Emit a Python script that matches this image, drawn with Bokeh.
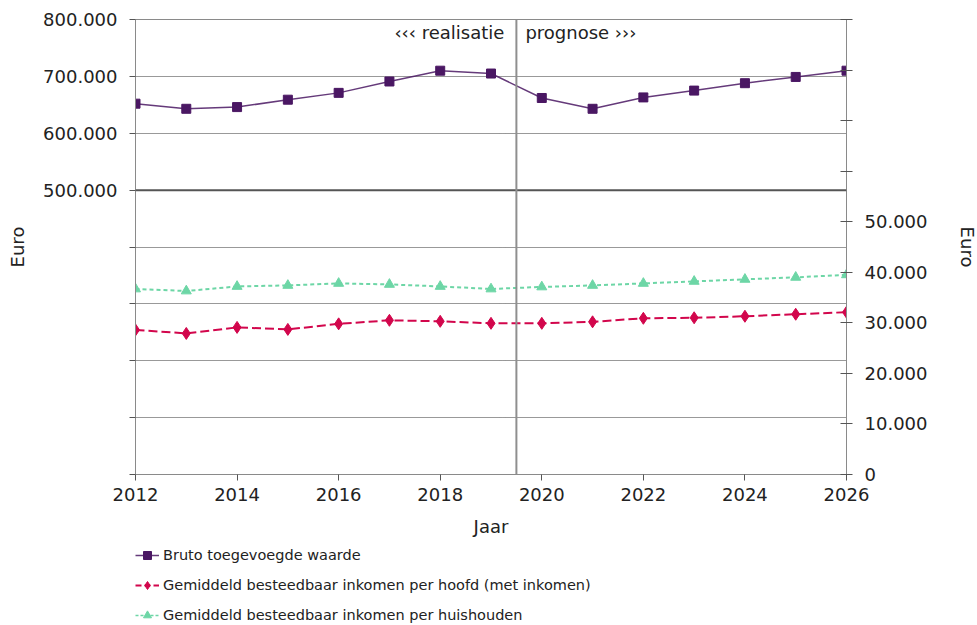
from bokeh.plotting import figure
from bokeh.layouts import column
from bokeh.models import (Range1d, LinearAxis, FixedTicker, Span, Label, Legend, LegendItem)
from bokeh.embed import file_html
from bokeh.resources import INLINE

years = list(range(2012, 2027))
bruto = [652000, 643000, 646000, 659000, 671000, 691000, 710000, 705000,
         662000, 643000, 663000, 675000, 688000, 699000, 710000]
hoofd = [28600, 27900, 29100, 28700, 29800, 30500, 30300, 29900,
         29900, 30200, 30900, 31000, 31300, 31700, 32100]
huish = [36700, 36300, 37200, 37400, 37800, 37600, 37200, 36700,
         37100, 37400, 37800, 38200, 38600, 39000, 39500]

left_ticks = [0, 100000, 200000, 300000, 400000, 500000, 600000, 700000, 800000]
left_labels = ["", "", "", "", "", "500.000", "600.000", "700.000", "800.000"]
right_ticks = [0, 10000, 20000, 30000, 40000, 50000, 60000, 70000, 80000, 90000]
right_labels = ["0", "10.000", "20.000", "30.000", "40.000", "50.000", "", "", "", ""]
x_ticks = [2012, 2014, 2016, 2018, 2020, 2022, 2024, 2026]
split_year = 2019.5

names = ["Bruto toegevoegde waarde",
         "Gemiddeld besteedbaar inkomen per hoofd (met inkomen)",
         "Gemiddeld besteedbaar inkomen per huishouden"]

FONT = "DejaVu Sans"
TXT = "#222222"
PURPLE = "#4a1763"
RED = "#d2064c"
GREEN = "#6dd6a6"
AXC = "#8a8a8a"

p = figure(frame_width=711, frame_height=455, output_backend="svg", toolbar_location=None,
           x_range=Range1d(2012, 2026), y_range=Range1d(0, 800000),
           min_border_left=135, min_border_right=131, min_border_top=19, min_border_bottom=71,
           x_axis_label="Jaar", y_axis_label="Euro")
p.extra_y_ranges = {"right": Range1d(0, 90000)}
p.outline_line_color = AXC
p.background_fill_color = "white"
p.border_fill_color = "white"

# grids
p.xgrid.visible = False
p.ygrid.ticker = FixedTicker(ticks=left_ticks[1:8])
p.ygrid.grid_line_color = "#333333"
p.ygrid.grid_line_dash = "1 1"
p.ygrid.grid_line_width = 1

# left axis
ya = p.yaxis[0]
ya.ticker = FixedTicker(ticks=left_ticks)
ya.major_label_overrides = {t: l for t, l in zip(left_ticks, left_labels)}
ya.major_tick_in = 0
ya.major_tick_out = 6
ya.minor_tick_line_color = None
ya.axis_line_color = AXC
ya.major_tick_line_color = "#555555"
ya.major_label_text_font = FONT
ya.major_label_text_font_size = "18px"
ya.major_label_text_color = TXT
ya.major_label_standoff = 12
ya.axis_label_text_font = FONT
ya.axis_label_text_font_size = "18px"
ya.axis_label_text_font_style = "normal"
ya.axis_label_text_color = TXT
ya.axis_label_standoff = 12

# right axis
ra = LinearAxis(y_range_name="right", axis_label="Euro")
ra.ticker = FixedTicker(ticks=right_ticks)
ra.major_label_overrides = {t: l for t, l in zip(right_ticks, right_labels)}
ra.major_tick_in = 6
ra.major_tick_out = 6
ra.minor_tick_line_color = None
ra.axis_line_color = AXC
ra.major_tick_line_color = "#555555"
ra.major_label_text_font = FONT
ra.major_label_text_font_size = "18px"
ra.major_label_text_color = TXT
ra.major_label_standoff = 12
ra.axis_label_text_font = FONT
ra.axis_label_text_font_size = "18px"
ra.axis_label_text_font_style = "normal"
ra.axis_label_text_color = TXT
ra.axis_label_standoff = 27
ra.axis_label_orientation = "vertical"
p.add_layout(ra, "right")

# bottom axis
xa = p.xaxis[0]
xa.ticker = FixedTicker(ticks=x_ticks)
xa.major_tick_in = 0
xa.major_tick_out = 6
xa.minor_tick_line_color = None
xa.axis_line_color = AXC
xa.major_tick_line_color = "#555555"
xa.major_label_text_font = FONT
xa.major_label_text_font_size = "18px"
xa.major_label_text_color = TXT
xa.major_label_standoff = 7
xa.axis_label_text_font = FONT
xa.axis_label_text_font_size = "18px"
xa.axis_label_text_font_style = "normal"
xa.axis_label_text_color = TXT
xa.axis_label_standoff = 12

# reference lines
p.add_layout(Span(location=500000, dimension="width", line_color="#555555", line_width=2))
p.add_layout(Span(location=split_year, dimension="height", line_color="#8f8f8f", line_width=2))

p.add_layout(Label(x=split_year, y=777000, text="‹‹‹ realisatie", x_offset=-12,
                   text_align="right", text_baseline="middle", text_font=FONT,
                   text_font_size="18px", text_color=TXT))
p.add_layout(Label(x=split_year, y=777000, text="prognose ›››", x_offset=9,
                   text_align="left", text_baseline="middle", text_font=FONT,
                   text_font_size="18px", text_color=TXT))

# series
p.line(years, bruto, line_color=PURPLE, line_width=1.5, line_alpha=0.85)
p.scatter(years, bruto, marker="square", size=9, fill_color=PURPLE, line_color=PURPLE)

p.line(years, hoofd, y_range_name="right", line_color=RED, line_width=2, line_dash="9 4")
p.scatter(years, hoofd, y_range_name="right", marker="diamond", size=12,
          fill_color=RED, line_color=RED)

p.line(years, huish, y_range_name="right", line_color=GREEN, line_width=2, line_dash="4 3")
p.scatter(years, huish, y_range_name="right", marker="triangle", size=10,
          fill_color=GREEN, line_color=GREEN)

# legend (separate strip below the chart; its renderers hold no visible data)
lg = figure(width=977, height=80, output_backend="svg", toolbar_location=None,
            x_axis_location=None, y_axis_location=None, min_border=0,
            x_range=Range1d(0, 1), y_range=Range1d(0, 1))
lg.outline_line_color = None
lg.xgrid.visible = False
lg.ygrid.visible = False
nan = [float("nan")]
a1 = lg.line(nan, nan, line_color=PURPLE, line_width=1.5, line_alpha=0.85)
b1 = lg.scatter(nan, nan, marker="square", size=8, fill_color=PURPLE, line_color=PURPLE)
a2 = lg.line(nan, nan, line_color=RED, line_width=2, line_dash="6 3")
b2 = lg.scatter(nan, nan, marker="diamond", size=10, fill_color=RED, line_color=RED)
a3 = lg.line(nan, nan, line_color=GREEN, line_width=1.5, line_dash="3 2")
b3 = lg.scatter(nan, nan, marker="triangle", size=9, fill_color=GREEN, line_color=GREEN)

legend = Legend(items=[LegendItem(label=names[0], renderers=[a1, b1]),
                       LegendItem(label=names[1], renderers=[a2, b2]),
                       LegendItem(label=names[2], renderers=[a3, b3])],
                location=(0, 0), orientation="vertical",
                glyph_width=24, glyph_height=20, label_height=20, spacing=10,
                label_standoff=4, padding=0, margin=0,
                label_text_font=FONT, label_text_font_size="14.5px", label_text_color=TXT,
                border_line_alpha=0, background_fill_alpha=0)
lg.add_layout(legend, "center")

layout = column(p, lg, spacing=0)
open("out.html", "w").write(file_html(layout, INLINE))
